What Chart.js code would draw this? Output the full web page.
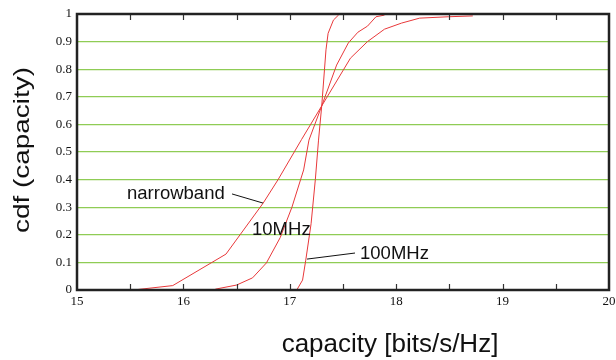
<!DOCTYPE html>
<html>
<head>
<meta charset="utf-8">
<script src="https://cdn.jsdelivr.net/npm/chart.js@4/dist/chart.umd.min.js"></script>
<style>
  html, body { margin: 0; padding: 0; background: #fff; }
  #wrap { width: 616px; height: 360px; }
</style>
</head>
<body>
<div id="wrap"><canvas id="grafico" width="616" height="360"></canvas></div>
<script>
const xTicks = [15, 16, 17, 18, 19, 20];
const yTickLabels = ["0", "0.1", "0.2", "0.3", "0.4", "0.5", "0.6", "0.7", "0.8", "0.9", "1"];
const xTitle = "capacity [bits/s/Hz]";
const yTitle = "cdf (capacity)";

const narrowX = [15.53, 15.9, 16.4, 16.75, 16.89, 17.11, 17.3, 17.57, 17.73, 17.89, 18.05, 18.22, 18.49, 18.72];
const narrowY = [0, 0.016, 0.13, 0.315, 0.40, 0.545, 0.667, 0.84, 0.90, 0.945, 0.967, 0.985, 0.99, 0.993];

const mhz10X = [16.3, 16.5, 16.65, 16.78, 16.91, 17.02, 17.13, 17.18, 17.3, 17.44, 17.55, 17.64, 17.73, 17.81, 17.89];
const mhz10Y = [0.003, 0.018, 0.044, 0.098, 0.19, 0.30, 0.435, 0.543, 0.667, 0.815, 0.895, 0.934, 0.956, 0.99, 0.996];

const mhz100X = [17.07, 17.12, 17.15, 17.2, 17.24, 17.27, 17.3, 17.34, 17.36, 17.41, 17.46];
const mhz100Y = [0.003, 0.036, 0.108, 0.24, 0.40, 0.543, 0.667, 0.87, 0.93, 0.978, 0.997];

function punti(xs, ys) {
  return xs.map((x, i) => ({ x: x, y: ys[i] }));
}

function serie(xs, ys) {
  return {
    data: punti(xs, ys),
    showLine: true,
    borderColor: "#e8383a",
    borderWidth: 1,
    pointRadius: 0,
    tension: 0
  };
}

// etichette (x,y = inizio testo / linea di base) con linea di richiamo, in coordinate dati
const etichette = [
  { testo: "narrowband", x: 15.47, y: 0.330, lx1: 16.457, ly1: 0.348, lx2: 16.748, ly2: 0.315 },
  { testo: "10MHz", x: 16.645, y: 0.199 },
  { testo: "100MHz", x: 17.66, y: 0.112, lx1: 17.162, ly1: 0.112, lx2: 17.613, ly2: 0.134 }
];

const cornice = {
  id: "cornice",
  afterDraw(chart) {
    const { ctx, chartArea: a, scales } = chart;
    const sx = scales.x, sy = scales.y;
    ctx.save();
    // linee di richiamo e testi
    ctx.strokeStyle = "#111";
    ctx.lineWidth = 1;
    ctx.fillStyle = "#111";
    ctx.font = "18.5px 'Liberation Sans', Arial, sans-serif";
    ctx.textBaseline = "alphabetic";
    ctx.textAlign = "left";
    etichette.forEach(e => {
      if (e.lx1 !== undefined) {
        ctx.beginPath();
        ctx.moveTo(sx.getPixelForValue(e.lx1), sy.getPixelForValue(e.ly1));
        ctx.lineTo(sx.getPixelForValue(e.lx2), sy.getPixelForValue(e.ly2));
        ctx.stroke();
      }
      ctx.fillText(e.testo, sx.getPixelForValue(e.x), sy.getPixelForValue(e.y));
    });
    // tacche ogni 0.5 in alto e in basso
    ctx.strokeStyle = "#333";
    ctx.lineWidth = 1.2;
    for (let v = 15.5; v < 20; v += 0.5) {
      const px = Math.round(sx.getPixelForValue(v)) + 0.5;
      ctx.beginPath();
      ctx.moveTo(px, a.bottom);
      ctx.lineTo(px, a.bottom - 6);
      ctx.moveTo(px, a.top);
      ctx.lineTo(px, a.top + 6);
      ctx.stroke();
    }
    // cornice
    ctx.strokeStyle = "#222";
    ctx.lineWidth = 2.5;
    ctx.strokeRect(a.left, a.top, a.right - a.left, a.bottom - a.top);

    // titoli degli assi
    ctx.fillStyle = "#111";
    ctx.textAlign = "center";
    ctx.textBaseline = "middle";
    ctx.font = "26px 'Liberation Sans', Arial, sans-serif";
    ctx.fillText(xTitle, 390, 345);
    ctx.translate(23, 150);
    ctx.rotate(-Math.PI / 2);
    ctx.scale(1.3, 1);
    ctx.font = "21.5px 'Liberation Sans', Arial, sans-serif";
    ctx.fillText(yTitle, 0, 0);
    ctx.restore();
  }
};

new Chart(document.getElementById("grafico"), {
  type: "scatter",
  data: {
    datasets: [
      serie(narrowX, narrowY),
      serie(mhz10X, mhz10Y),
      serie(mhz100X, mhz100Y)
    ]
  },
  options: {
    responsive: false,
    animation: false,
    layout: { padding: { top: 14, right: 7, left: 0, bottom: 0 } },
    plugins: { legend: { display: false }, tooltip: { enabled: false } },
    scales: {
      x: {
        type: "linear",
        min: 15,
        max: 20,
        afterFit(s) { s.height = 70; s.paddingLeft = 0; s.paddingRight = 0; },
        afterBuildTicks(s) { s.ticks = xTicks.map(v => ({ value: v })); },
        grid: { display: false, drawTicks: false },
        border: { display: false },
        ticks: {
          padding: 4,
          color: "#111",
          maxRotation: 0,
          font: { family: "'Liberation Serif', 'Times New Roman', serif", size: 13 }
        }
      },
      y: {
        type: "linear",
        min: 0,
        max: 1,
        afterFit(s) { s.width = 77; s.paddingTop = 0; s.paddingBottom = 0; },
        afterBuildTicks(s) { s.ticks = yTickLabels.map((_, i) => ({ value: i / 10 })); },
        grid: { color: "#8fcc55", lineWidth: 1.2, drawTicks: false },
        border: { display: false },
        ticks: {
          padding: 5,
          color: "#111",
          font: { family: "'Liberation Serif', 'Times New Roman', serif", size: 13 },
          callback: (v, i) => yTickLabels[i]
        }
      }
    }
  },
  plugins: [cornice]
});
</script>
</body>
</html>
